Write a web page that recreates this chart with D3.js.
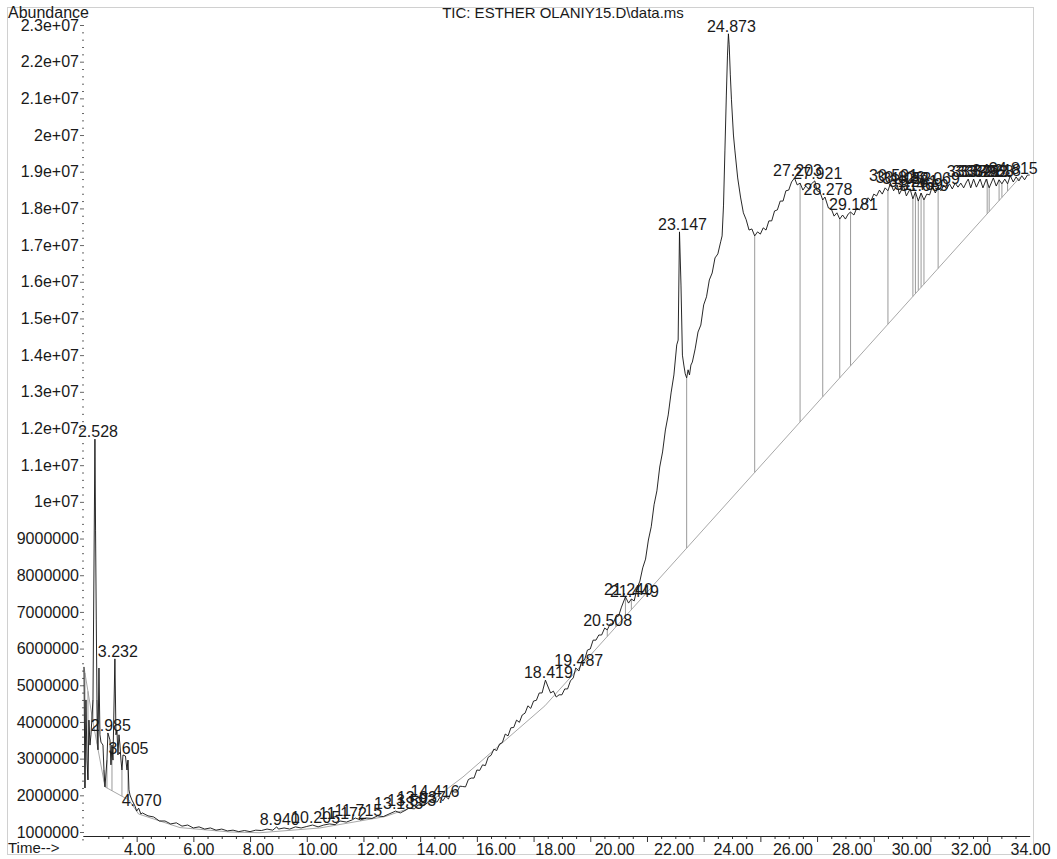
<!DOCTYPE html>
<html>
<head>
<meta charset="utf-8">
<script src="https://cdn.jsdelivr.net/npm/d3@7"></script>
<style>
  body { margin: 0; background: #fff; }
  text { font-family: "Liberation Sans", Arial, sans-serif; fill: #1a1a1a; }
</style>
</head>
<body>
<svg id="chart" width="1057" height="859"></svg>
<script>
// Total ion chromatogram: retention time (min) and abundance (x 10^4 counts)
const retentionTime = [
  2.141, 2.176, 2.212, 2.247, 2.282, 2.317, 2.353, 2.388, 2.459, 2.528,
  2.550, 2.575, 2.600, 2.635, 2.670, 2.705, 2.741, 2.811, 2.847, 2.882,
  2.952, 2.985, 3.058, 3.093, 3.129, 3.164, 3.232, 3.270, 3.305, 3.340,
  3.376, 3.411, 3.446, 3.481, 3.517, 3.605, 3.658, 3.693, 3.728, 3.764,
  3.834, 3.940,
  4.000, 4.070, 4.150, 4.200, 4.400, 4.600, 4.800, 5.000, 5.200, 5.400,
  5.600, 5.800, 6.000, 6.200, 6.400, 6.600, 6.800, 7.000, 7.200, 7.400,
  7.600, 7.800, 8.000, 8.200, 8.400, 8.600, 8.800, 8.940, 9.000, 9.200,
  9.400, 9.600, 9.800, 10.000, 10.205, 10.400, 10.600, 10.800, 11.000, 11.172,
  11.400, 11.600, 11.715, 11.900, 12.100, 12.300, 12.500, 12.700, 12.900, 13.133,
  13.300, 13.500, 13.593, 13.800, 13.937, 14.100, 14.250, 14.416, 14.500,
  14.6, 14.7, 14.8, 14.9, 15.0, 15.1, 15.2, 15.3, 15.4, 15.5,
  15.6, 15.7, 15.8, 15.9, 16.0, 16.1, 16.2, 16.3, 16.4, 16.5,
  16.6, 16.7, 16.8, 16.9, 17.0, 17.1, 17.2, 17.3, 17.4, 17.5,
  17.6, 17.7, 17.8, 17.9, 18.0, 18.1, 18.2, 18.3, 18.419, 18.5,
  18.6, 18.7, 18.8, 18.9, 19.0, 19.1, 19.2, 19.3, 19.4, 19.487,
  19.6, 19.7, 19.8, 19.9, 20.0, 20.1, 20.2, 20.3, 20.4, 20.508,
  20.6, 20.7, 20.8, 20.9, 21.0, 21.1, 21.240, 21.35, 21.449, 21.55,
  21.65, 21.75, 21.85, 21.95, 22.05, 22.15, 22.25, 22.35, 22.45, 22.55,
  22.65, 22.75, 22.85, 22.95, 23.05, 23.10, 23.147, 23.20, 23.25, 23.30,
  23.35, 23.40, 23.45, 23.50, 23.55, 23.60, 23.70, 23.80, 23.90, 24.00,
  24.10, 24.20, 24.30, 24.40, 24.50, 24.60, 24.65, 24.70, 24.75, 24.80,
  24.84, 24.873, 24.90, 24.94, 24.98, 25.05, 25.10, 25.20, 25.30, 25.40,
  25.50, 25.60, 25.70, 25.80, 25.90, 26.00, 26.10, 26.20, 26.30, 26.40,
  26.50, 26.60, 26.70, 26.80, 26.90, 27.00, 27.10, 27.203, 27.30, 27.40,
  27.50, 27.60, 27.70, 27.80, 27.921, 28.00, 28.10, 28.20, 28.278, 28.40,
  28.50, 28.60, 28.70, 28.80, 28.90, 29.00, 29.10, 29.181, 29.30, 29.40,
  29.50, 29.60, 29.70, 29.80, 29.90, 30.00, 30.10, 30.20, 30.30, 30.40,
  30.50, 30.591, 30.70, 30.826, 30.90, 31.052, 31.15, 31.281, 31.38, 31.469,
  31.57, 31.669, 31.77, 31.87, 31.97, 32.069, 32.17, 32.27, 32.37, 32.47,
  32.57, 32.67, 32.77, 32.87, 32.97, 33.07, 33.17, 33.27, 33.332, 33.42,
  33.521, 33.62, 33.752, 33.85, 33.968, 34.07, 34.218, 34.32, 34.42, 34.52,
  34.62, 34.72, 34.815, 34.92, 35.02, 35.12, 35.22, 35.32, 35.42, 35.50
];
const abundance = [
  550, 220, 460, 296, 242, 405, 337, 365, 460, 1171,
  923, 678, 460, 324, 547, 365, 345, 337, 269, 223,
  296, 370, 351, 283, 337, 296, 572, 365, 378, 310,
  365, 337, 296, 269, 310, 307, 269, 296, 215, 201,
  187, 171,
  157, 165, 149, 152, 144, 141, 130, 130, 122, 125,
  116, 119, 111, 114, 108, 111, 105, 108, 103, 105,
  101, 104, 101, 105, 104, 108, 105, 114, 108, 111,
  108, 114, 111, 115, 119, 114, 119, 122, 120, 130,
  127, 133, 138, 133, 138, 137, 144, 142, 149, 157,
  152, 160, 165, 163, 174, 171, 179, 190, 182,
  182, 195, 185, 197, 190, 212, 209, 209, 225, 224,
  223, 243, 247, 247, 269, 268, 283, 281, 304, 309,
  326, 322, 340, 344, 367, 362, 384, 385, 405, 399,
  419, 424, 444, 437, 457, 459, 479, 479, 514, 498,
  479, 484, 468, 474, 474, 490, 490, 512, 520, 547,
  539, 566, 569, 596, 599, 623, 623, 637, 637, 656,
  651, 667, 667, 686, 689, 713, 741, 724, 735, 730,
  765, 784, 820, 844, 896, 932, 992, 1030, 1095, 1136,
  1196, 1237, 1297, 1346, 1428, 1441, 1736, 1591, 1400, 1373,
  1349, 1338, 1360, 1346, 1373, 1381, 1417, 1463, 1482, 1537,
  1559, 1605, 1624, 1665, 1676, 1709, 1725, 1809, 1959, 2109,
  2218, 2276, 2246, 2164, 2096, 2000, 1959, 1883, 1831, 1788,
  1769, 1741, 1744, 1725, 1736, 1730, 1747, 1741, 1766, 1766,
  1793, 1796, 1820, 1820, 1848, 1850, 1872, 1883, 1864, 1869,
  1850, 1861, 1853, 1867, 1875, 1848, 1845, 1823, 1831, 1801,
  1799, 1779, 1788, 1771, 1782, 1771, 1785, 1790, 1782, 1801,
  1796, 1815, 1812, 1829, 1820, 1839, 1834, 1850, 1839, 1856,
  1848, 1869, 1848, 1864, 1839, 1861, 1834, 1853, 1826, 1845,
  1820, 1842, 1823, 1839, 1837, 1861, 1842, 1858, 1848, 1864,
  1853, 1867, 1853, 1869, 1858, 1869, 1856, 1872, 1880, 1856,
  1880, 1858, 1880, 1856, 1880, 1856, 1883, 1861, 1878, 1867,
  1880, 1867, 1889, 1872, 1886, 1875, 1889, 1878, 1891, 1891
];

// Integrated peaks (retention times printed above the apex)
const peakTimes = [
  2.528, 2.985, 3.232, 3.605, 4.070, 8.940, 10.205, 11.172, 11.715, 13.133,
  13.593, 13.937, 14.416, 18.419, 19.487, 20.508, 21.240, 21.449, 23.147, 24.873,
  27.203, 27.921, 28.278, 29.181, 30.591, 30.826, 31.052, 31.281, 31.469, 31.669,
  32.069, 33.332, 33.521, 33.752, 33.968, 34.218, 34.815
];

// Baseline polylines under the integrated peaks (time, abundance x 10^4)
const baselineEarlyT = [2.141, 2.459, 2.882, 3.728, 4.070, 5.527, 7.291, 8.349, 10.466, 12.758, 14.416, 15.510, 18.400];
const baselineEarlyA = [550, 400, 223, 187, 149, 112, 100, 98, 111, 142, 186, 250, 444];
const baselineLateT = [18.400, 35.160];
const baselineLateA = [444, 1885];

// Drop lines from the trace down to the baseline (time)
const dropTimes = [
  2.176, 2.282, 2.459, 2.600, 2.847, 2.952, 3.129, 3.481, 3.693,
  20.6, 20.9, 21.240, 21.449, 23.40, 25.80, 27.40, 28.20, 28.80,
  29.181, 30.50, 31.38, 31.469, 31.57, 31.669, 31.77, 32.27,
  34.0, 34.07, 34.42, 34.52, 34.72
];

const xMajorTicks = [4, 6, 8, 10, 12, 14, 16, 18, 20, 22, 24, 26, 28, 30, 32, 34];
const yMajorTicks = [100, 200, 300, 400, 500, 600, 700, 800, 900, 1000, 1100, 1200,
  1300, 1400, 1500, 1600, 1700, 1800, 1900, 2000, 2100, 2200, 2300];
const yTickLabels = ["1000000", "2000000", "3000000", "4000000", "5000000", "6000000",
  "7000000", "8000000", "9000000", "1e+07", "1.1e+07", "1.2e+07", "1.3e+07", "1.4e+07",
  "1.5e+07", "1.6e+07", "1.7e+07", "1.8e+07", "1.9e+07", "2e+07", "2.1e+07", "2.2e+07", "2.3e+07"];

const svg = d3.select("#chart");
const FONT = '"Liberation Sans", Arial, sans-serif';

// outer frame
svg.append("rect")
  .attr("x", 7.5).attr("y", 7.5).attr("width", 1026).attr("height", 847)
  .attr("fill", "none").attr("stroke", "#d0d0d0");

const x = d3.scaleLinear().domain([2.1, 35.5]).range([82.8, 1029.7]);
const y = d3.scaleLinear().domain([100, 2300]).range([832, 25]);
// tick labels are laid out on a slightly wider pitch than the tick marks
const xLabel = d3.scaleLinear().domain([4, 34]).range([139, 1030]);
const axisY = 836;

// x axis: line with major/minor ticks
const minorX = d3.range(3, 35.01, 0.5).filter(v => !xMajorTicks.includes(v));
svg.append("g").attr("transform", `translate(0,${axisY})`)
  .call(d3.axisBottom(x).tickValues(minorX).tickSize(3).tickFormat(""))
  .call(g => g.select(".domain").remove())
  .selectAll("line").attr("stroke", "#333");
svg.append("g").attr("transform", `translate(0,${axisY})`)
  .call(d3.axisBottom(x).tickValues(xMajorTicks).tickSize(6).tickSizeOuter(0).tickFormat(""))
  .call(g => g.select(".domain").attr("stroke", "#222"))
  .selectAll("line").attr("stroke", "#333");
svg.append("g").attr("transform", `translate(0,${axisY})`)
  .call(d3.axisBottom(xLabel).tickValues(xMajorTicks).tickSize(0).tickPadding(8)
    .tickFormat(d3.format(".2f")))
  .call(g => g.select(".domain").remove())
  .selectAll("text").attr("font-size", 16).attr("fill", "#1a1a1a").attr("font-family", FONT);

// y axis: ticks only
const minorY = d3.range(80, 2310, 20).filter(v => v % 100 !== 0);
svg.append("g").attr("transform", "translate(84,0)")
  .call(d3.axisLeft(y).tickValues(minorY).tickSize(2).tickFormat(""))
  .call(g => g.select(".domain").remove())
  .selectAll("line").attr("stroke", "#666");
svg.append("g").attr("transform", "translate(84,0)")
  .call(d3.axisLeft(y).tickValues(yMajorTicks).tickSize(4).tickPadding(1)
    .tickFormat((d, i) => yTickLabels[i]))
  .call(g => g.select(".domain").remove())
  .call(g => g.selectAll("line").attr("stroke", "#666"))
  .selectAll("text").attr("font-size", 16).attr("fill", "#1a1a1a").attr("font-family", FONT);

// headings
svg.append("text").attr("x", 8).attr("y", 18).attr("font-size", 16).text("Abundance");
svg.append("text").attr("x", 563).attr("y", 18).attr("font-size", 15)
  .attr("text-anchor", "middle").text("TIC: ESTHER OLANIY15.D\\data.ms");
svg.append("text").attr("x", 8).attr("y", 853).attr("font-size", 15).text("Time-->");

const trace = retentionTime.map((t, i) => [t, abundance[i]]);
const bisect = d3.bisector(d => d[0]).left;
function traceAt(t) {
  const i = Math.min(Math.max(bisect(trace, t), 1), trace.length - 1);
  const a = trace[i - 1], b = trace[i];
  return (t - a[0]) / (b[0] - a[0]) < 0.5 ? a[1] : b[1];
}
const baseT = baselineEarlyT.concat(baselineLateT.slice(1));
const baseA = baselineEarlyA.concat(baselineLateA.slice(1));
const baselineAt = d3.scaleLinear().domain(baseT).range(baseA);

const line = d3.line().x(d => x(d[0])).y(d => y(d[1]));

// baselines
[[baselineEarlyT, baselineEarlyA], [baselineLateT, baselineLateA]].forEach(([T, A]) => {
  svg.append("path")
    .attr("d", line(T.map((t, i) => [t, A[i]])))
    .attr("fill", "none").attr("stroke", "#a8a8a8").attr("stroke-width", 1);
});

// drop lines
svg.append("g").selectAll("line").data(dropTimes).join("line")
  .attr("x1", d => x(d)).attr("x2", d => x(d))
  .attr("y1", d => y(traceAt(d))).attr("y2", d => y(baselineAt(d)))
  .attr("stroke", "#9a9a9a").attr("stroke-width", 1);

// chromatogram trace
svg.append("path")
  .attr("d", line(trace))
  .attr("fill", "none").attr("stroke", "#111").attr("stroke-width", 0.9);

// peak retention-time labels
svg.append("g").selectAll("text").data(peakTimes).join("text")
  .attr("x", d => x(d) + 3)
  .attr("y", d => y(traceAt(d)) - 2)
  .attr("text-anchor", "middle")
  .attr("font-size", 16)
  .text(d => d3.format(".3f")(d));
</script>
</body>
</html>
